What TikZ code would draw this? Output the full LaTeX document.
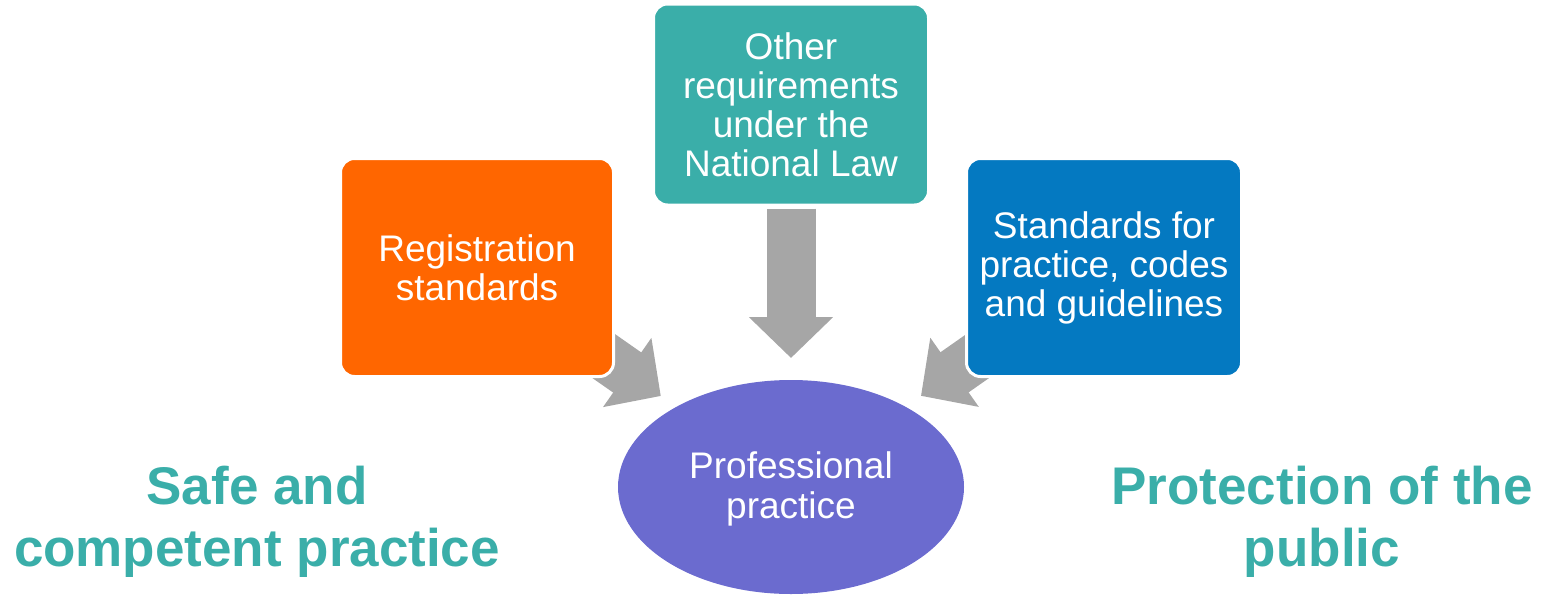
\documentclass[tikz,border=0pt]{standalone}
\usepackage{fontspec}
\setmainfont{Liberation Sans}
\usetikzlibrary{arrows.meta,shapes.geometric,backgrounds}
\definecolor{orangebox}{HTML}{FF6600}
\definecolor{tealbox}{HTML}{3AAEA9}
\definecolor{bluebox}{HTML}{0479C1}
\definecolor{purplebox}{HTML}{6B6BCF}
\definecolor{arrowgray}{HTML}{A6A6A6}
\begin{document}
\begin{tikzpicture}[x=1pt, y=-1pt,
    box/.style={rounded corners=14pt, draw=white, line width=3pt, outer sep=0pt, inner sep=0pt,
        text=white, align=center, font=\fontsize{37}{39}\selectfont},
    bigarrow/.style={arrowgray, line width=49pt, -{Triangle[width=82pt,length=41pt]}},
    label/.style={tealbox, align=center, font=\fontsize{53}{62}\selectfont\bfseries}]
\useasboundingbox (0,0) rectangle (1544,597);
\node[box, fill=orangebox, minimum width=273pt, minimum height=218pt] (reg) at (477,267.5) {Registration\\standards};
\node[box, fill=tealbox, minimum width=275pt, minimum height=201pt] (oth) at (791,104.5) {Other\\requirements\\under the\\National Law};
\node[box, fill=bluebox, minimum width=275pt, minimum height=218pt] (std) at (1104,267.5) {Standards for\\practice, codes\\and guidelines};
\node[ellipse, fill=purplebox, outer sep=0pt, inner sep=0pt, minimum width=346pt, minimum height=214pt,
    text=white, align=center, font=\fontsize{37}{39}\selectfont] (prac) at (791,487) {};
\node[text=white, align=center, font=\fontsize{37}{40}\selectfont] (pracl) at (791,488.5) {Professional\\practice};
\node[label] (safe) at (257,521.5) {Safe and\\competent practice};
\node[label] (pub) at (1322,521.5) {Protection of the\\public};
\begin{pgfonlayer}{background}
\draw[bigarrow, shorten <=3.5pt, shorten >=22pt] (oth) -- (prac);
\draw[bigarrow, shorten >=19pt] (reg.center) -- (prac);
\draw[bigarrow, shorten >=19pt] (std.center) -- (prac);
\end{pgfonlayer}
\end{tikzpicture}
\end{document}
